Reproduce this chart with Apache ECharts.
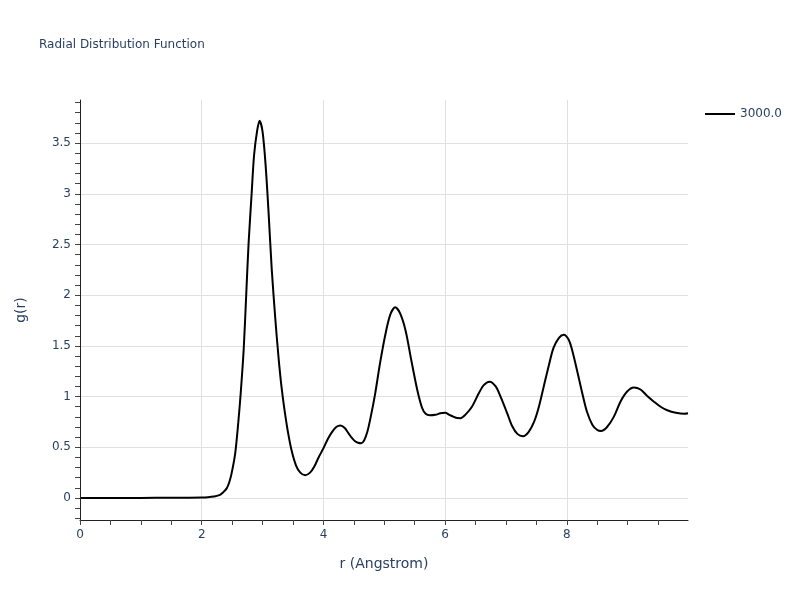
<!DOCTYPE html>
<html>
<head>
<meta charset="utf-8">
<script src="https://cdn.jsdelivr.net/npm/echarts@6/dist/echarts.min.js"></script>
<style>html,body{margin:0;padding:0;background:#fff}#chart{width:800px;height:600px}</style>
</head>
<body>
<div id="chart"></div>
<script>
// Data
const rValues = [0, 0.5, 1.0, 1.5, 1.8, 2.0, 2.1, 2.2, 2.3, 2.35, 2.41, 2.45, 2.49, 2.55, 2.60, 2.64, 2.69, 2.73, 2.77, 2.82, 2.86, 2.91, 2.95, 3.00, 3.05, 3.10, 3.15, 3.21, 3.26, 3.31, 3.36, 3.42, 3.48, 3.55, 3.62, 3.70, 3.78, 3.85, 3.92, 4.00, 4.07, 4.14, 4.21, 4.28, 4.35, 4.41, 4.47, 4.52, 4.57, 4.62, 4.67, 4.72, 4.77, 4.85, 4.93, 5.02, 5.10, 5.18, 5.26, 5.35, 5.44, 5.54, 5.62, 5.68, 5.75, 5.84, 5.92, 6.00, 6.07, 6.14, 6.20, 6.25, 6.33, 6.44, 6.55, 6.63, 6.73, 6.83, 6.91, 7.02, 7.10, 7.19, 7.28, 7.37, 7.46, 7.54, 7.62, 7.70, 7.78, 7.87, 7.95, 8.03, 8.09, 8.17, 8.25, 8.33, 8.42, 8.50, 8.56, 8.66, 8.77, 8.88, 8.99, 9.10, 9.21, 9.32, 9.43, 9.54, 9.65, 9.79, 9.93, 9.99];
const gValues = [0, 0, 0.001, 0.002, 0.003, 0.005, 0.008, 0.015, 0.03, 0.055, 0.095, 0.15, 0.24, 0.44, 0.74, 1.03, 1.47, 1.99, 2.51, 3.00, 3.38, 3.62, 3.72, 3.61, 3.28, 2.80, 2.26, 1.76, 1.40, 1.10, 0.87, 0.64, 0.46, 0.32, 0.25, 0.225, 0.25, 0.31, 0.40, 0.49, 0.58, 0.65, 0.70, 0.715, 0.69, 0.64, 0.59, 0.56, 0.545, 0.54, 0.57, 0.65, 0.78, 1.03, 1.33, 1.62, 1.81, 1.88, 1.82, 1.65, 1.37, 1.07, 0.89, 0.83, 0.815, 0.82, 0.835, 0.84, 0.82, 0.80, 0.788, 0.787, 0.82, 0.90, 1.03, 1.11, 1.147, 1.10, 1.00, 0.835, 0.71, 0.63, 0.61, 0.65, 0.75, 0.90, 1.10, 1.30, 1.48, 1.58, 1.61, 1.56, 1.45, 1.25, 1.04, 0.85, 0.72, 0.67, 0.66, 0.70, 0.80, 0.95, 1.05, 1.09, 1.07, 1.006, 0.95, 0.90, 0.865, 0.84, 0.83, 0.835];
const seriesName = '3000.0';
const xTickValues = [0, 0.5, 1, 1.5, 2, 2.5, 3, 3.5, 4, 4.5, 5, 5.5, 6, 6.5, 7, 7.5, 8, 8.5, 9, 9.5];
const xLabelValues = [0, 2, 4, 6, 8];
const yLabelValues = [0, 0.5, 1, 1.5, 2, 2.5, 3, 3.5];
const yTickValues = [-0.2, -0.1, 0, 0.1, 0.2, 0.3, 0.4, 0.5, 0.6, 0.7, 0.8, 0.9, 1.0, 1.1, 1.2, 1.3, 1.4, 1.5, 1.6, 1.7, 1.8, 1.9, 2.0, 2.1, 2.2, 2.3, 2.4, 2.5, 2.6, 2.7, 2.8, 2.9, 3.0, 3.1, 3.2, 3.3, 3.4, 3.5, 3.6, 3.7, 3.8, 3.9];
const zeroLineValues = [0];

const points = rValues.map((r, i) => [r, gValues[i]]);
const font = '"DejaVu Sans", Verdana, sans-serif';
const txt = '#2a3f5f';
const gridColor = '#e0e0e0';
const xMin = 0, xMax = 9.99, yMin = -0.217, yMax = 3.925;

const chart = echarts.init(document.getElementById('chart'));
chart.setOption({
  animation: false,
  backgroundColor: '#fff',
  title: {
    text: 'Radial Distribution Function',
    left: 39, top: 39, padding: 0,
    textStyle: { fontFamily: font, fontSize: 12, fontWeight: 'normal', color: txt }
  },
  legend: {
    data: [seriesName],
    left: 705, top: 108, padding: 0,
    itemWidth: 30, itemHeight: 10, itemGap: 10,
    icon: 'path://M0,4 L30,4 L30,6 L0,6 Z',
    textStyle: { fontFamily: font, fontSize: 12, color: txt }
  },
  grid: { left: 80, right: 112, top: 100, bottom: 80, containLabel: false },
  xAxis: [{
    type: 'value', min: xMin, max: xMax, interval: 2,
    name: 'r (Angstrom)', nameLocation: 'middle', nameGap: 37,
    nameTextStyle: { fontFamily: font, fontSize: 14, color: txt },
    axisLine: { show: true, onZero: false, lineStyle: { color: '#222', width: 1 } },
    axisTick: { show: true, length: 5, customValues: xTickValues, lineStyle: { color: '#444' } },
    axisLabel: { customValues: xLabelValues, margin: 9, fontFamily: font, fontSize: 12, color: txt },
    splitLine: { show: false },
    z: 5
  }, {
    type: 'value', min: xMin, max: xMax, interval: 2, position: 'top',
    axisLine: { show: false }, axisTick: { show: false }, axisLabel: { show: false },
    splitLine: { show: true, showMinLine: false, showMaxLine: false, lineStyle: { color: gridColor, width: 1 } }
  }],
  yAxis: [{
    type: 'value', min: yMin, max: yMax,
    name: 'g(r)', nameLocation: 'middle', nameGap: 52, nameRotate: 90,
    nameTextStyle: { fontFamily: font, fontSize: 14, color: txt },
    axisLine: { show: true, onZero: false, lineStyle: { color: '#222', width: 1 } },
    axisTick: { show: true, length: 5, customValues: yTickValues, lineStyle: { color: '#444' } },
    axisLabel: { customValues: yLabelValues, margin: 9, fontFamily: font, fontSize: 12, color: txt },
    splitLine: { show: false },
    z: 5
  }, {
    type: 'value', min: yMin, max: yMax, splitNumber: 8, position: 'right',
    axisLine: { show: false }, axisTick: { show: false }, axisLabel: { show: false },
    splitLine: { show: true, showMinLine: false, showMaxLine: false, lineStyle: { color: gridColor, width: 1 } }
  }, {
    type: 'value', min: yMin, max: yMax, position: 'right', offset: 10,
    axisLine: { show: false },
    axisTick: { show: false, customValues: zeroLineValues },
    axisLabel: { show: false, customValues: zeroLineValues },
    splitLine: { show: true, showMinLine: true, showMaxLine: false, lineStyle: { color: '#cccccc', width: 2 } }
  }],
  series: [{
    name: seriesName,
    type: 'line',
    xAxisIndex: 0, yAxisIndex: 0,
    data: points,
    symbol: 'none',
    smooth: 0.3,
    lineStyle: { color: '#000', width: 2 },
    itemStyle: { color: '#000' },
    z: 3
  }]
});
</script>
</body>
</html>
